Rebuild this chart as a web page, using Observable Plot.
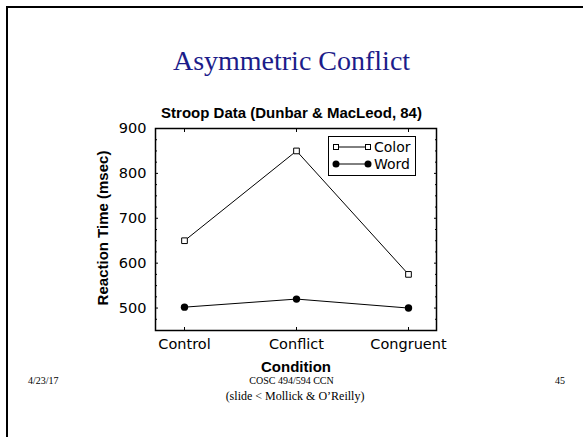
<!DOCTYPE html>
<html><head><meta charset="utf-8">
<script src="https://cdn.jsdelivr.net/npm/d3@7"></script>
<script src="https://cdn.jsdelivr.net/npm/@observablehq/plot@0.6"></script>
<style>
body{margin:0;background:#fff;}
#slide{position:relative;width:583px;height:437px;overflow:hidden;background:#fff;font-family:"DejaVu Sans",sans-serif;color:#000;}
#border{position:absolute;left:6px;top:6px;width:620px;height:500px;border-top:2px solid #000;border-left:2px solid #000;}
.abs{position:absolute;white-space:nowrap;}
#title{left:0;width:583px;text-align:center;top:47px;font-family:"Liberation Serif",serif;font-size:28px;color:#1c1c8a;line-height:1;}
#ctitle{left:0;width:583px;text-align:center;top:105px;font-family:"Liberation Sans",sans-serif;font-weight:bold;font-size:15px;line-height:1;}
#ylab{left:102px;top:228px;transform:translate(-50%,-50%) rotate(-90deg);font-family:"Liberation Sans",sans-serif;font-weight:bold;font-size:15px;line-height:1;}
#xlab{left:296px;top:366px;transform:translate(-50%,-50%);font-family:"Liberation Sans",sans-serif;font-weight:bold;font-size:15px;line-height:1;}
#chart{left:0;top:118px;}
#legend{left:328px;top:136px;width:86px;height:38px;border:1.5px solid #000;background:#fff;}
.foot{font-family:"Liberation Serif",serif;line-height:1;}
</style>
</head><body>
<div id="slide">
  <div id="border"></div>
  <div class="abs" id="title">Asymmetric Conflict</div>
  <div class="abs" id="ctitle">Stroop Data (Dunbar &amp; MacLeod, 84)</div>
  <div class="abs" id="chart"></div>
  <div class="abs" id="ylab">Reaction Time (msec)</div>
  <div class="abs" id="xlab">Condition</div>
  <div class="abs" id="legend"></div>
  <div class="abs foot" style="left:28px;top:376px;font-size:10px;">4/23/17</div>
  <div class="abs foot" style="left:0;width:583px;text-align:center;top:376px;font-size:10px;">COSC 494/594 CCN</div>
  <div class="abs foot" style="left:0;width:590px;text-align:center;top:390px;font-size:12px;">(slide &lt; Mollick &amp; O’Reilly)</div>
  <div class="abs foot" style="left:555px;top:376px;font-size:10px;">45</div>
</div>
<script>
const conditions = ["Control", "Conflict", "Congruent"];
const colorRT = [650, 850, 575];
const wordRT = [502, 520, 500];
const seriesNames = ["Color", "Word"];
const yMajor = [500, 600, 700, 800, 900];
const yMinor = [475, 525, 550, 575, 625, 650, 675, 725, 750, 775, 825, 850, 875];

const colorData = conditions.map((c, i) => ({condition: c, rt: colorRT[i], series: seriesNames[0]}));
const wordData = conditions.map((c, i) => ({condition: c, rt: wordRT[i], series: seriesNames[1]}));

const chart = Plot.plot({
  width: 583,
  height: 257,
  marginLeft: 155,
  marginRight: 147,
  marginTop: 10,
  marginBottom: 45,
  style: {fontFamily: "DejaVu Sans, sans-serif", background: "none"},
  x: {type: "point", domain: conditions, padding: 0.25},
  y: {domain: [450, 900]},
  marks: [
    Plot.axisY({ticks: yMajor, tickSize: 0, tickPadding: 9, fontSize: 14.5, label: null}),
    Plot.axisY({ticks: yMajor, tickSize: -3, fill: "none", label: null}),
    Plot.axisY({ticks: yMinor, tickSize: -2, fill: "none", label: null}),
    Plot.axisY({anchor: "right", ticks: yMajor, tickSize: -3, fill: "none", label: null}),
    Plot.axisY({anchor: "right", ticks: yMinor, tickSize: -2, fill: "none", label: null}),
    Plot.axisX({tickSize: 0, tickPadding: 8, fontSize: 14.5, label: null}),
    Plot.axisX({tickSize: -3, fill: "none", label: null}),
    Plot.axisX({anchor: "top", tickSize: -3, fill: "none", label: null}),
    Plot.frame({strokeWidth: 1.5}),
    Plot.line(colorData, {x: "condition", y: "rt", stroke: "black", strokeWidth: 1}),
    Plot.line(wordData, {x: "condition", y: "rt", stroke: "black", strokeWidth: 1}),
    Plot.dot(colorData, {x: "condition", y: "rt", symbol: "square", r: 3.2, fill: "white", stroke: "black", strokeWidth: 1}),
    Plot.dot(wordData, {x: "condition", y: "rt", r: 3.7, fill: "black", stroke: "none"})
  ]
});
document.getElementById("chart").appendChild(chart);

// legend (HTML + small svg symbols)
const leg = document.getElementById("legend");
const NS = "http://www.w3.org/2000/svg";
const lsvg = document.createElementNS(NS, "svg");
lsvg.setAttribute("width", 86); lsvg.setAttribute("height", 38);
lsvg.style.position = "absolute"; lsvg.style.left = "0"; lsvg.style.top = "0";
seriesNames.forEach((name, i) => {
  const cy = 10 + i * 17;
  const ln = document.createElementNS(NS, "line");
  ln.setAttribute("x1", 7); ln.setAttribute("x2", 39); ln.setAttribute("y1", cy); ln.setAttribute("y2", cy);
  ln.setAttribute("stroke", "black"); ln.setAttribute("stroke-width", 1);
  lsvg.appendChild(ln);
  [7, 39].forEach(cx => {
    let s;
    if (i === 0) {
      s = document.createElementNS(NS, "rect");
      s.setAttribute("x", cx - 2.5); s.setAttribute("y", cy - 2.5); s.setAttribute("width", 5); s.setAttribute("height", 5);
      s.setAttribute("fill", "white"); s.setAttribute("stroke", "black");
    } else {
      s = document.createElementNS(NS, "circle");
      s.setAttribute("cx", cx); s.setAttribute("cy", cy); s.setAttribute("r", 3.5); s.setAttribute("fill", "black");
    }
    lsvg.appendChild(s);
  });
  const t = document.createElementNS(NS, "text");
  t.setAttribute("x", 45); t.setAttribute("y", cy); t.setAttribute("dy", "0.35em");
  t.setAttribute("font-family", "DejaVu Sans, sans-serif"); t.setAttribute("font-size", 14);
  t.textContent = name;
  lsvg.appendChild(t);
});
leg.appendChild(lsvg);
</script>
</body></html>
